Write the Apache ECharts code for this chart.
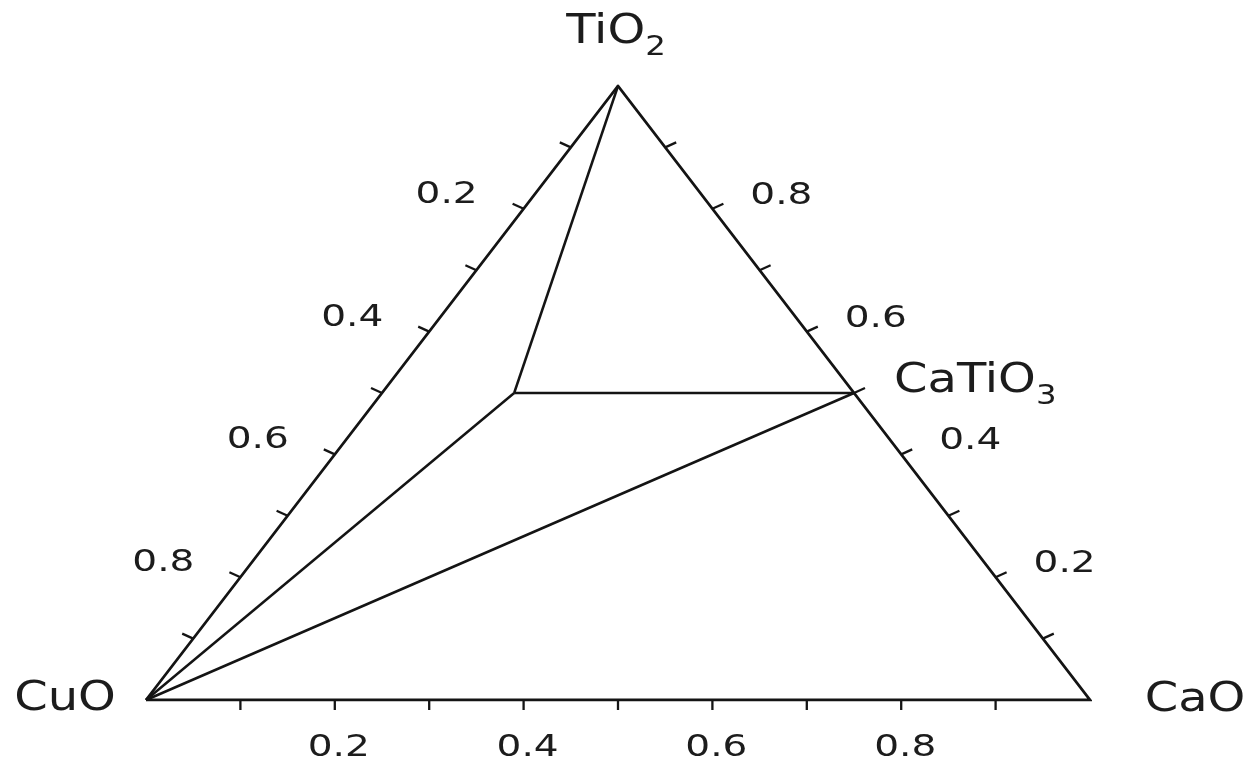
<!DOCTYPE html>
<html><head><meta charset="utf-8">
<script src="https://cdn.jsdelivr.net/npm/echarts@6/dist/echarts.min.js"></script>
<style>html,body{margin:0;padding:0;background:#fff}#c{width:1247px;height:761px}</style>
</head><body><div id="c"></div>
<script>
// ---- data (compositions given as [CaO fraction, TiO2 fraction]; CuO = 1 - CaO - TiO2) ----
const vertexNames = ['CuO', 'CaO', 'TiO2'];
const vertexCaO   = [0, 1, 0];
const vertexTiO2  = [0, 0, 1];
const phaseNames  = ['CaTiO3', 'J'];
const phaseCaO    = [0.5, 0.14];
const phaseTiO2   = [0.5, 0.5];
const tieFrom = ['TiO2', 'J', 'J', 'CaTiO3'];
const tieTo   = ['J', 'CaTiO3', 'CuO', 'CuO'];
const tickValues  = [0.1, 0.2, 0.3, 0.4, 0.5, 0.6, 0.7, 0.8, 0.9];
const labelValues = [0.2, 0.4, 0.6, 0.8];
const tickLabels  = ['0.2', '0.4', '0.6', '0.8'];

// ---- helpers ----
const comp = {};
vertexNames.forEach((n, i) => comp[n] = [vertexCaO[i], vertexTiO2[i]]);
phaseNames.forEach((n, i) => comp[n] = [phaseCaO[i], phaseTiO2[i]]);
const toXY = (cao, tio2) => [cao + tio2 / 2, tio2];
const FONT = 'DejaVu Sans';
const INK = '#141414';
const TXT = '#1c1c1c';

const bottomPt = v => toXY(v, 0);          // CaO fraction
const leftPt   = v => toXY(0, 1 - v);      // CuO fraction
const rightPt  = v => toXY(1 - v, v);      // TiO2 fraction

const tickDir = { b: [0, 10], l: [-11, -5], r: [11, -5] };
const tickData = [];
tickValues.forEach(v => {
  tickData.push([...bottomPt(v), 'b']);
  tickData.push([...leftPt(v), 'l']);
  tickData.push([...rightPt(v), 'r']);
});

const labelOff = { b: [4, 48], l: [-77, -14], r: [69, -13] };
const labelData = [];
labelValues.forEach((v, i) => {
  labelData.push([...bottomPt(v), 'b', tickLabels[i]]);
  labelData.push([...leftPt(v), 'l', tickLabels[i]]);
  labelData.push([...rightPt(v), 'r', tickLabels[i]]);
});

const nameOff = { 'CuO': [-81, 0, 'center'], 'CaO': [105, 1, 'center'], 'TiO2': [-2, -53, 'center'], 'CaTiO3': [40, -11, 'left'] };
const nameList = ['CuO', 'CaO', 'TiO2', 'CaTiO3'];
const nameData = nameList.map(n => [...toXY(comp[n][0], comp[n][1]), n]);
const richName = n => n.replace(/([A-Za-z]+)/g, '{m|$1}').replace(/(\d+)/g, '{s|$1}');

const series = [];
// triangle frame
series.push({
  type: 'line', symbol: 'none', silent: true, animation: false,
  data: ['CuO', 'CaO', 'TiO2', 'CuO'].map(n => toXY(comp[n][0], comp[n][1])),
  lineStyle: { color: INK, width: 2.8, join: 'miter' }
});
// tie lines
tieFrom.forEach((a, i) => {
  const b = tieTo[i];
  series.push({
    type: 'line', symbol: 'none', silent: true, animation: false,
    data: [toXY(comp[a][0], comp[a][1]), toXY(comp[b][0], comp[b][1])],
    lineStyle: { color: INK, width: 2.5 }
  });
});
// ticks
series.push({
  type: 'custom', clip: false, silent: true, animation: false,
  data: tickData,
  renderItem: (params, api) => {
    const d = tickData[params.dataIndex];
    const p = api.coord([d[0], d[1]]);
    const o = tickDir[d[2]];
    return { type: 'line', shape: { x1: p[0], y1: p[1], x2: p[0] + o[0], y2: p[1] + o[1] },
             style: { stroke: INK, lineWidth: 2.3 } };
  }
});
// tick labels
series.push({
  type: 'custom', clip: false, silent: true, animation: false,
  data: labelData,
  renderItem: (params, api) => {
    const d = labelData[params.dataIndex];
    const p = api.coord([d[0], d[1]]);
    const o = labelOff[d[2]];
    return { type: 'text', x: p[0] + o[0], y: p[1] + o[1], scaleX: 1.26,
             style: { text: d[3], fontFamily: FONT, fontSize: 31, fill: TXT, align: 'center', verticalAlign: 'middle' } };
  }
});
// component names
series.push({
  type: 'custom', clip: false, silent: true, animation: false,
  data: nameData,
  renderItem: (params, api) => {
    const d = nameData[params.dataIndex];
    const p = api.coord([d[0], d[1]]);
    const o = nameOff[d[2]];
    return { type: 'text', x: p[0] + o[0], y: p[1] + o[1], scaleX: 1.2,
             style: { text: richName(d[2]), align: o[2], verticalAlign: 'middle',
                      rich: {
                        m: { fontFamily: FONT, fontSize: 40, lineHeight: 56, fill: TXT },
                        s: { fontFamily: FONT, fontSize: 27, lineHeight: 27, verticalAlign: 'bottom', fill: TXT }
                      } } };
  }
});

const chart = echarts.init(document.getElementById('c'), null, { renderer: 'canvas' });
chart.setOption({
  backgroundColor: '#ffffff',
  animation: false,
  grid: { left: 146, top: 86, width: 944, height: 614 },
  xAxis: { type: 'value', min: 0, max: 1, show: false },
  yAxis: { type: 'value', min: 0, max: 1, show: false },
  series
});
</script>
</body></html>
